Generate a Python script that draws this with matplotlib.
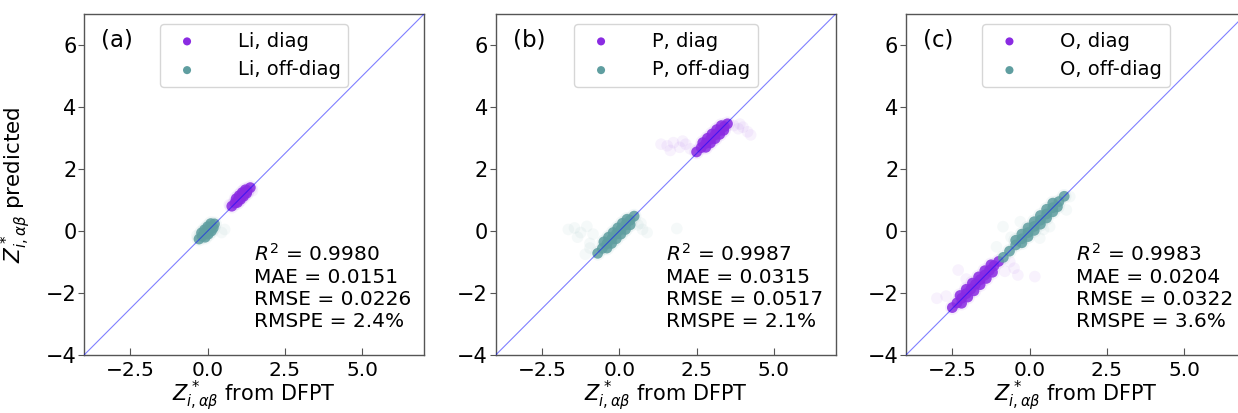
import matplotlib
matplotlib.use("Agg")
import matplotlib.pyplot as plt

# ---------------- data ----------------
species = ["Li", "P", "O"]
panel_tags = ["(a)", "(b)", "(c)"]
stats_r2 = ["0.9980", "0.9987", "0.9983"]
stats_mae = ["0.0151", "0.0315", "0.0204"]
stats_rmse = ["0.0226", "0.0517", "0.0322"]
stats_rmspe = ["2.4%", "2.1%", "3.6%"]
ref_line = [-4, 7]
xticks = [-2.5, 0.0, 2.5, 5.0]
yticks = [-4, -2, 0, 2, 4, 6]

# (a) Li
li_diag_x = [0.78, 0.88, 0.98, 1.08, 1.18, 1.28, 1.38, 0.92, 1.02, 1.12, 1.22, 0.96, 1.06, 1.16, 1.26]
li_diag_y = [0.80, 0.90, 1.00, 1.10, 1.20, 1.30, 1.40, 1.04, 1.14, 1.24, 1.33, 0.92, 1.02, 1.12, 1.22]
li_diag_fx = [0.70, 1.45]
li_diag_fy = [0.85, 1.30]
li_off_x = [-0.28, -0.18, -0.08, 0.02, 0.12, 0.22, -0.20, -0.10, 0.00, 0.10, -0.08, 0.02, 0.12, 0.18]
li_off_y = [-0.26, -0.17, -0.07, 0.03, 0.13, 0.23, -0.06, 0.04, 0.14, 0.24, -0.20, -0.10, 0.00, 0.10]
li_off_fx = [0.45, 0.55, -0.35]
li_off_fy = [-0.05, 0.05, -0.15]

# (b) P
p_diag_x = [2.50, 2.65, 2.80, 2.95, 3.10, 3.25, 3.40, 3.50, 2.70, 2.85, 3.00, 3.15, 3.30, 2.80, 2.95, 3.10, 3.25, 3.38]
p_diag_y = [2.55, 2.69, 2.83, 2.96, 3.10, 3.24, 3.37, 3.46, 2.85, 2.99, 3.13, 3.27, 3.40, 2.70, 2.84, 2.98, 3.12, 3.25]
p_diag_fx = [1.35, 1.55, 1.75, 1.95, 2.15, 2.30, 1.65, 2.05, 3.70, 3.85, 4.00, 4.15, 4.25, 3.90]
p_diag_fy = [2.80, 2.75, 2.85, 2.70, 2.80, 2.65, 2.60, 2.90, 3.40, 3.30, 3.35, 3.20, 3.10, 3.45]
p_off_x = [-0.70, -0.55, -0.40, -0.25, -0.10, 0.05, 0.20, 0.35, 0.48, -0.50, -0.35, -0.20, -0.05, 0.10, 0.25,
           -0.40, -0.25, -0.10, 0.05, 0.20, 0.35]
p_off_y = [-0.72, -0.56, -0.41, -0.26, -0.10, 0.05, 0.20, 0.35, 0.48, -0.35, -0.20, -0.05, 0.10, 0.25, 0.38,
           -0.55, -0.40, -0.25, -0.10, 0.05, 0.20]
p_off_fx = [-1.65, -1.45, -1.25, -1.05, -0.85, -1.35, -0.95, 0.60, 0.75, 0.90, 1.86, -1.10, -0.95, 0.70]
p_off_fy = [0.05, 0.10, -0.05, 0.15, -0.10, -0.20, -0.55, 0.20, 0.05, -0.05, 0.08, -0.75, -0.40, 0.25]

# (c) O
o_diag_x = [-2.50, -2.35, -2.20, -2.05, -1.90, -1.75, -1.60, -1.45, -1.30, -1.15, -1.00,
            -2.25, -2.05, -1.85, -1.65, -1.45, -1.25, -2.20, -2.00, -1.80, -1.60, -1.40, -1.20]
o_diag_y = [-2.47, -2.32, -2.17, -2.02, -1.87, -1.72, -1.57, -1.42, -1.27, -1.12, -0.98,
            -2.08, -1.88, -1.68, -1.48, -1.28, -1.09, -2.33, -2.13, -1.93, -1.73, -1.53, -1.33]
o_diag_fx = [-2.31, -3.00, -0.64, -0.38, 0.17, -2.70, -2.05, -0.80, -0.50]
o_diag_fy = [-1.26, -2.17, -0.99, -1.42, -1.47, -2.10, -1.55, -1.30, -1.20]
o_off_x = [-0.85, -0.65, -0.45, -0.25, -0.05, 0.15, 0.35, 0.55, 0.75, 0.95, 1.12,
           -0.45, -0.25, -0.05, 0.15, 0.35, 0.55, 0.75, -0.25, -0.05, 0.15, 0.35, 0.55, 0.75, 0.90]
o_off_y = [-0.85, -0.65, -0.45, -0.25, -0.05, 0.15, 0.35, 0.55, 0.75, 0.95, 1.12,
           -0.30, -0.10, 0.10, 0.30, 0.50, 0.70, 0.90, -0.38, -0.18, 0.02, 0.22, 0.42, 0.62, 0.78]
o_off_fx = [-0.86, -1.07, 0.00, 0.33, 0.65, 1.19, 1.30, -0.60, -0.30, 0.45]
o_off_fy = [0.14, -0.51, 0.03, -0.23, 0.14, 0.68, 1.11, -0.20, 0.30, 0.05]

panels = [
    (li_diag_x, li_diag_y, li_diag_fx, li_diag_fy, li_off_x, li_off_y, li_off_fx, li_off_fy),
    (p_diag_x, p_diag_y, p_diag_fx, p_diag_fy, p_off_x, p_off_y, p_off_fx, p_off_fy),
    (o_diag_x, o_diag_y, o_diag_fx, o_diag_fy, o_off_x, o_off_y, o_off_fx, o_off_fy),
]

# ---------------- style ----------------
C_DIAG = "blueviolet"
C_OFF = "cadetblue"
SPINE = "#555555"

fig = plt.figure(figsize=(12.38, 4.13), dpi=100)
lefts = [0.0679, 0.4004, 0.7318]
for k in range(3):
    ax = fig.add_axes([lefts[k], 0.1404, 0.2746, 0.8257])
    dx, dy, dfx, dfy, ox, oy, ofx, ofy = panels[k]
    # faint outliers
    ax.scatter(dfx, dfy, s=70, color=C_DIAG, alpha=0.06, edgecolors="none", zorder=2)
    ax.scatter(ofx, ofy, s=70, color=C_OFF, alpha=0.06, edgecolors="none", zorder=2)
    # soft halo around the dense cores
    ax.scatter(dx, dy, s=110, color=C_DIAG, alpha=0.07, edgecolors="none", zorder=2)
    ax.scatter(ox, oy, s=110, color=C_OFF, alpha=0.07, edgecolors="none", zorder=2)
    # dense cores
    ax.scatter(dx, dy, s=60, color=C_DIAG, alpha=0.85, edgecolors="none", zorder=3,
               label=f"{species[k]}, diag")
    ax.scatter(ox, oy, s=60, color=C_OFF, alpha=0.85, edgecolors="none", zorder=3,
               label=f"{species[k]}, off-diag")
    ax.plot(ref_line, ref_line, color="blue", lw=0.8, alpha=0.5, zorder=4)

    ax.set_xlim(ref_line)
    ax.set_ylim(ref_line)
    ax.set_xticks(xticks)
    ax.set_yticks(yticks)
    ax.tick_params(axis="x", direction="in", length=5, labelsize=14.5, pad=4, color=SPINE)
    ax.tick_params(axis="y", direction="out", length=4, labelsize=15, pad=1.5, color=SPINE)
    for sp in ax.spines.values():
        sp.set_color(SPINE)
        sp.set_linewidth(1.0)

    ax.set_xlabel(r"$Z^*_{i,\alpha\beta}$ from DFPT", fontsize=15, labelpad=-0.5)
    if k == 0:
        ax.set_ylabel(r"$Z^*_{i,\alpha\beta}$ predicted", fontsize=15.5)
        ax.yaxis.set_label_coords(-0.15, 0.5)

    ax.text(0.05, 0.925, panel_tags[k], transform=ax.transAxes, fontsize=16.5,
            ha="left", va="center")
    stats = (r"$R^2$ = " + stats_r2[k] + "\nMAE = " + stats_mae[k] +
             "\nRMSE = " + stats_rmse[k] + "\nRMSPE = " + stats_rmspe[k])
    ax.text(0.5, 0.07, stats, transform=ax.transAxes, fontsize=14.5,
            ha="left", va="bottom")

    leg = ax.legend(loc="upper center", fontsize=14, markerscale=0.75,
                    handletextpad=1.6, borderaxespad=0.5, scatterpoints=1)
    for lh in leg.legend_handles:
        lh.set_alpha(1.0)

fig.savefig("out.png", dpi=100)
